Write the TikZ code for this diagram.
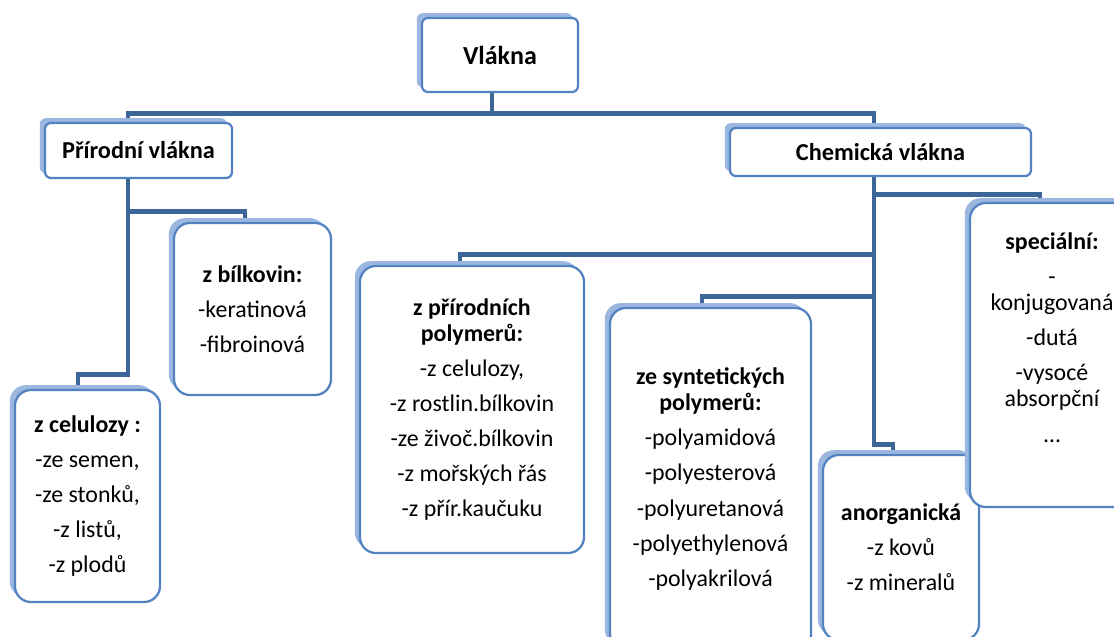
\documentclass[tikz,border=0pt]{standalone}
\usepackage{fontspec}
\setmainfont{Carlito}
\usepackage{tikz}
\usetikzlibrary{calc}
\usetikzlibrary{backgrounds}
\usetikzlibrary{shadows}
\definecolor{linkblue}{HTML}{3D6698}
\definecolor{boxblue}{HTML}{5282C0}
\definecolor{shadeblue}{HTML}{9BB7E0}
\tikzset{
	box/.style={draw=boxblue,line width=1.6pt,fill=white,align=center,inner sep=1mm,
		general shadow={fill=shadeblue,shadow xshift=-0.13cm,shadow yshift=0.12cm}},
	topbox/.style={box,rounded corners=1.5mm,font=\fontsize{17.3}{20}\selectfont\bfseries},
	subbox/.style={box,rounded corners=4mm,font=\fontsize{17}{25}\selectfont},
	link/.style={draw=linkblue,line width=3.4pt},
}

\begin{document}
\begin{tikzpicture}[x=0.025cm,y=-0.025cm]
	\clip (0,0) rectangle (1114,637);
	\node[topbox,font=\fontsize{18.5}{22}\selectfont\bfseries,minimum width=3.9cm,minimum height=1.85cm] (vlakna) at (500,55) {Vlákna};
	\node[topbox,minimum width=4.675cm,minimum height=1.375cm] (prirodni) at (138.5,150.5) {Přírodní vlákna};
	\node[topbox,minimum width=7.525cm,minimum height=1.2cm] (chemicka) at (880.5,152) {Chemická vlákna};
	\node[subbox,minimum width=3.925cm,minimum height=4.3cm] (bilkovin) at (252.5,309) {\textbf{z bílkovin:}\\-keratinová\\-fibroinová};
	\node[subbox,minimum width=3.625cm,minimum height=5.3cm] (celulozy) at (87.5,496) {\textbf{z celulozy :}\\-ze semen,\\-ze stonků,\\-z listů,\\-z plodů};
	\node[subbox,minimum width=5.6cm,minimum height=7.175cm] (prir poly) at (472,409.5) {\textbf{z přírodních}\\[-6.5pt]\textbf{polymerů:}\\-z celulozy,\\-z rostlin.bílkovin\\-ze živoč.bílkovin\\-z mořských řás\\-z přír.kaučuku};
	\node[subbox,minimum width=5.025cm,minimum height=8.55cm] (synt poly) at (710.5,479) {\textbf{ze syntetických}\\[-6.5pt]\textbf{polymerů:}\\-polyamidová\\-polyesterová\\-polyuretanová\\-polyethylenová\\-polyakrilová};
	\node[subbox,minimum width=3.9cm,minimum height=4.625cm] (anorg) at (901,547.5) {\textbf{anorganická}\\-z kovů\\-z mineralů};
	\node[subbox,minimum width=4.1cm,minimum height=7.6cm] (special) at (1052,355) {\textbf{speciální:}\\-\\[-6.5pt]konjugovaná\\-dutá\\-vysocé\\[-6.5pt]absorpční\\…\\\mbox{}};
	\begin{scope}[on background layer]
		\fill[white] (0,0) rectangle (1114,637);
		\draw[link] ([xshift=-0.2cm]vlakna.south) -- ++(0,20) -| ([xshift=-0.26cm]prirodni.north);
		\draw[link] ([xshift=-0.2cm]vlakna.south) -- ++(0,20) -| ([xshift=-0.16cm]chemicka.north);
		\draw[link] ([xshift=-0.26cm]prirodni.south) -- ++(0,32) -| ([xshift=-0.19cm]bilkovin.north);
		\draw[link] ([xshift=-0.26cm]prirodni.south) -- ++(0,195) -| ([xshift=-0.24cm]celulozy.north);
		\draw[link] ([xshift=-0.16cm]chemicka.south) -- ++(0,17) -| ([xshift=-0.3cm]special.north);
		\draw[link] ([xshift=-0.16cm]chemicka.south) -- ++(0,77) -| ([xshift=-0.3cm]prir poly.north);
		\draw[link] ([xshift=-0.16cm]chemicka.south) -- ++(0,119) -| ([xshift=-0.21cm]synt poly.north);
		\draw[link] ([xshift=-0.16cm]chemicka.south) -- ++(0,267) -| ([xshift=-0.2cm]anorg.north);
	\end{scope}
\end{tikzpicture}
\end{document}
